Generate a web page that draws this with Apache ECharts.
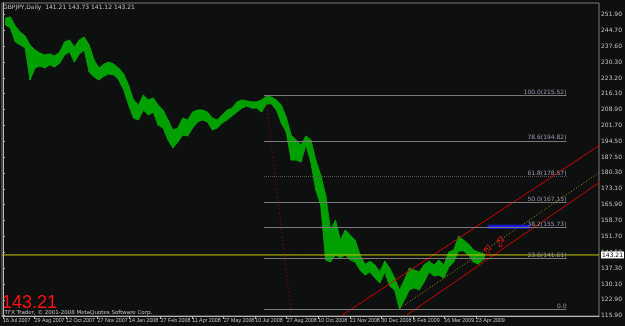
<!DOCTYPE html>
<html>
<head>
<meta charset="utf-8">
<script src="https://cdn.jsdelivr.net/npm/echarts@6/dist/echarts.min.js"></script>
<style>
html,body{margin:0;padding:0;background:#0e0f0f;}
#chart{width:625px;height:326px;}
</style>
</head>
<body>
<div id="chart"></div>
<script>
var symbolName = 'GBPJPY,Daily';
var ohlc = [141.21, 143.73, 141.12, 143.21];
var bid = 143.21;
// daily bars grouped in blocks of 5, low / high of each block
var barStep = 5;
var lows = [247.2,245.8,239.5,238.1,236.8,222.3,227.7,228.6,227.7,229.1,
  228.2,229.9,233.6,235.0,230.4,234.1,235.9,225.9,223.7,222.3,
  224.1,225.0,224.6,222.3,217.8,211.0,205.1,204.2,208.7,206.5,
  207.8,201.9,200.6,195.2,191.6,194.3,197.4,197.0,200.6,203.3,
  204.2,203.3,199.7,200.6,202.8,204.2,206.0,207.8,209.6,210.5,
  209.6,209.6,207.8,211.5,211.5,208.7,202.8,198.8,186.1,186.1,
  185.2,192.9,185.2,172.6,165.8,140.9,140.0,143.2,141.8,143.2,
  140.9,140.0,136.4,134.1,135.5,132.8,130.5,135.5,129.2,127.4,
  118.8,122.8,127.4,128.3,127.4,131.0,135.5,133.7,134.1,132.8,
  137.7,140.0,145.0,145.0,143.2,140.0,139.1,141.12];
var highs = [250.3,250.8,246.7,244.0,242.2,238.1,235.9,234.5,233.6,234.1,
  233.2,234.9,239.5,240.4,237.2,240.4,241.7,238.1,231.3,227.7,
  229.5,230.4,229.5,227.7,225.0,220.0,213.3,211.0,215.5,213.3,
  214.2,211.0,208.7,204.2,199.7,200.6,205.1,204.2,207.8,208.7,
  208.7,207.8,205.1,204.2,206.5,208.7,209.6,212.4,213.3,212.8,
  212.4,212.4,213.3,215.1,214.6,213.3,211.0,205.6,197.4,195.2,
  192.9,197.0,195.2,186.1,179.4,170.3,154.5,159.0,149.9,154.5,
  152.2,149.9,143.2,138.9,140.4,138.7,135.5,140.4,137.3,132.8,
  127.4,131.9,137.3,136.4,135.5,138.7,140.4,138.7,140.9,138.7,
  144.5,145.4,151.7,149.9,148.2,145.4,144.5,143.73];

var dateLabels = ['16 Jul 2007','29 Aug 2007','12 Oct 2007','27 Nov 2007','14 Jan 2008',
  '27 Feb 2008','11 Apr 2008','27 May 2008','10 Jul 2008','27 Aug 2008','10 Oct 2008',
  '21 Nov 2008','30 Dec 2008','6 Feb 2009','16 Mar 2009','23 Apr 2009'];
var dateTicks = [0,32,64,96,128,160,192,224,256,288,320,352,384,416,448,480];
var priceTicks = [115.9,122.9,130.1,137.3,144.5,151.7,158.7,165.9,173.1,180.3,
  187.5,194.5,201.7,208.9,216.1,223.2,230.3,237.6,244.7,251.9];

var fibLevels = [0, 23.6, 38.2, 50, 61.8, 78.6, 100];
var fibLow = 118.78, fibHigh = 215.52;
var fibFrom = 265, fibTo = 572;

var steepLine = [[267, 214.6], [293, 115.6]];
var channelUpper = [[343, 115.6], [606, 192.9]];
var channelLower = [[410, 116.1], [606, 176.2]];
var channelMid = [[403, 119.2], [606, 180.7]];
var blueZone = [[492, 155.9], [535, 155.9]];
var buyArrows = [[492, 145.5], [505, 149.3]];

var txt = '#c4c4c4';
var chart = echarts.init(document.getElementById('chart'));

var fibLines = fibLevels.map(function(l){
  var p = fibLow + (fibHigh - fibLow) * l / 100;
  return [{
    coord: [fibFrom, p],
    lineStyle: { color: l === 61.8 ? '#5a5a5a' : '#7a7a7a', type: l === 61.8 ? 'dotted' : 'solid', width: 1 },
    label: { formatter: l === 0 ? '0.0' : l.toFixed(1) + '(' + p.toFixed(2) + ')' }
  }, { coord: [fibTo, p] }];
});

function seg(d, color, type, w){
  return { type: 'line', data: d, symbol: 'none', silent: true,
    lineStyle: { color: color, type: type, width: w || 1 }, z: 3 };
}

var priceData = lows.map(function(lo, i){ return [i * barStep + barStep / 2, lo, highs[i]]; });

chart.setOption({
  animation: false,
  backgroundColor: '#0e0f0f',
  grid: { left: 0, right: 19, top: 3, bottom: 10, show: true, borderColor: '#7a7a7a', borderWidth: 1 },
  xAxis: {
    type: 'value', min: -1, max: 605,
    axisLine: { show: true, lineStyle: { color: '#b8b8b8' } },
    axisTick: { show: true, length: 3, customValues: dateTicks, lineStyle: { color: '#b8b8b8' } },
    axisLabel: {
      customValues: dateTicks, color: txt, fontSize: 5.3, fontFamily: 'Liberation Sans',
      align: 'left', margin: 2, hideOverlap: false, showMinLabel: true,
      formatter: function(v){ return dateLabels[dateTicks.indexOf(v)] || ''; }
    },
    splitLine: { show: false }
  },
  yAxis: {
    type: 'value', position: 'right', min: 115.61, max: 257.1,
    axisLine: { show: true, lineStyle: { color: '#b8b8b8' } },
    axisTick: { show: true, length: 2, customValues: priceTicks, lineStyle: { color: '#b8b8b8' } },
    axisLabel: {
      customValues: priceTicks, color: txt, fontSize: 6, fontFamily: 'DejaVu Sans', margin: 2,
      formatter: function(v){ return v.toFixed(2); }
    },
    splitLine: { show: false }
  },
  graphic: [
    { type: 'text', left: 3, top: 4, style: { text: symbolName + '  ' + ohlc.map(function(v){ return v.toFixed(2); }).join(' '),
      fill: txt, fontSize: 6, fontFamily: 'DejaVu Sans' } },
    { type: 'text', left: 2, top: 294, style: { text: bid.toFixed(2), fill: '#ff1010', fontSize: 18, fontFamily: 'Liberation Sans' } },
    { type: 'text', left: 3, top: 310, style: { text: 'ITFX Trader, \u00a9 2001-2008 MetaQuotes Software Corp.',
      fill: txt, fontSize: 5.5, fontFamily: 'DejaVu Sans' } }
  ],
  series: [
    {
      // price band: each block joined to the next one
      type: 'custom', z: 2,
      data: priceData,
      renderItem: function(params, api){
        var i = params.dataIndex;
        var cur = priceData[i], nxt = priceData[Math.min(i + 1, priceData.length - 1)];
        var p1 = api.coord([cur[0], cur[2]]), p2 = api.coord([nxt[0], nxt[2]]);
        var p3 = api.coord([nxt[0], nxt[1]]), p4 = api.coord([cur[0], cur[1]]);
        if (i === priceData.length - 1) { p2[0] += 1; p3[0] += 1; }
        return { type: 'polygon', shape: { points: [p1, p2, p3, p4] },
          style: { fill: '#00a000', stroke: '#00a000', lineWidth: 1 } };
      }
    },
    {
      type: 'line', data: [[fibFrom, fibLow]], symbol: 'none', lineStyle: { opacity: 0 }, silent: true,
      markLine: {
        silent: true, symbol: 'none', animation: false,
        label: { position: 'insideEndTop', color: '#9898b0', fontSize: 6, fontFamily: 'DejaVu Sans', distance: 0 },
        data: fibLines
      }
    },
    {
      type: 'line', data: [[-1, bid], [605, bid]], symbol: 'none', silent: true, z: 4,
      lineStyle: { color: '#c8c800', width: 1 },
      endLabel: { show: true, formatter: bid.toFixed(2), backgroundColor: '#ffffff', color: '#000',
        fontSize: 6, fontFamily: 'DejaVu Sans', padding: [1, 1, 0, 1], distance: 2 }
    },
    seg(steepLine, '#b00000', [1, 3], 1),
    seg(channelUpper, '#d00000', 'solid', 1),
    seg(channelLower, '#d00000', 'solid', 1),
    seg(channelMid, '#a0a000', [1, 2], 1),
    seg(blueZone, '#1c1ce0', 'solid', 4),
    {
      type: 'scatter', data: buyArrows, z: 4, silent: true,
      symbol: 'path://M5,0 L10,5 L7,5 L7,12 L3,12 L3,5 L0,5 Z', symbolSize: [7, 10],
      itemStyle: { color: 'rgba(0,0,0,0)', borderColor: '#e01010', borderWidth: 1 }
    }
  ]
});
</script>
</body>
</html>
